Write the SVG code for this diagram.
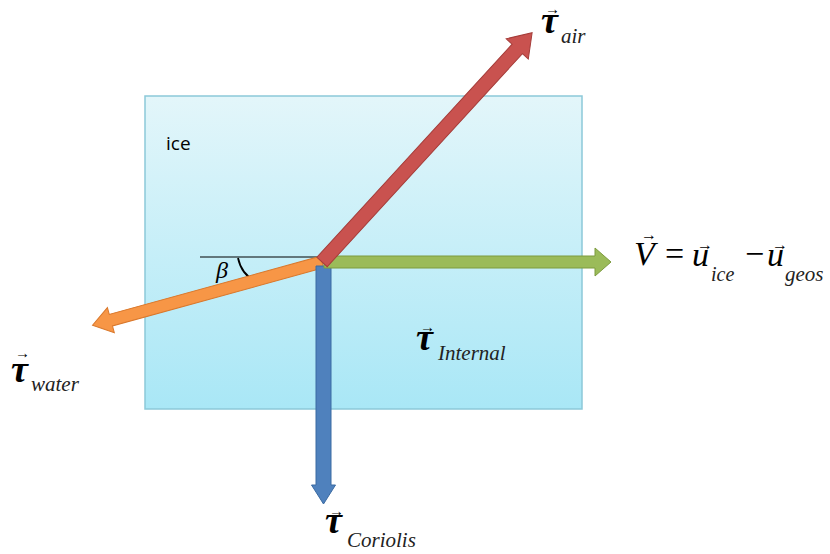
<svg xmlns="http://www.w3.org/2000/svg" width="830" height="554" viewBox="0 0 830 554">
<defs>
<linearGradient id="iceg" x1="0" y1="0" x2="0" y2="1">
<stop offset="0" stop-color="#e3f6fa"/>
<stop offset="1" stop-color="#a9e7f6"/>
</linearGradient>
</defs>
<rect width="830" height="554" fill="#ffffff"/>
<g id="ice-box">
<rect x="145" y="96" width="437" height="313" fill="url(#iceg)" stroke="#8cc9d9" stroke-width="1.5"/>
<text x="166" y="150" font-family="Open Sans" font-size="19" fill="#000">ice</text>
</g>
<g id="beta">
<line x1="200" y1="257" x2="320" y2="257" stroke="#000" stroke-width="1.2"/>
<path d="M238,258 Q242,277 260,283" fill="none" stroke="#000" stroke-width="1.8"/>
<text x="216" y="278" font-family="Liberation Serif" font-style="italic" font-size="24" fill="#000">β</text>
</g>
<g id="connectors">
<path id="tau-water-arrow" transform="translate(322,262) rotate(164.6)" d="M0,-6 L219,-6 L219,-13 L238,0 L219,13 L219,6 L0,6 Z" fill="#f79646" stroke="#d9782c" stroke-width="1"/>
<path id="tau-coriolis-arrow" transform="translate(323.5,266) rotate(90)" d="M0,-7.5 L219,-7.5 L219,-12 L238,0 L219,12 L219,7.5 L0,7.5 Z" fill="#4f81bd" stroke="#3a6aa2" stroke-width="1"/>
<path id="V-arrow" transform="translate(324,262) rotate(0)" d="M0,-6 L271,-6 L271,-14 L287,0 L271,14 L271,6 L0,6 Z" fill="#9bbb59" stroke="#7d9b3f" stroke-width="1"/>
<path id="tau-air-arrow" transform="translate(322,262) rotate(-47.5)" d="M0,-7 L289,-7 L289,-15 L311,0 L289,15 L289,7 L0,7 Z" fill="#c9524f" stroke="#a53c39" stroke-width="1"/>
</g>
<g font-family="Liberation Serif" fill="#000">
<g id="label-air">
<text x="541" y="33" font-size="38" font-weight="bold" font-style="italic">τ<tspan x="545" y="14" font-size="15" font-weight="normal" font-style="normal">→</tspan><tspan x="561" y="43" font-size="21" font-weight="normal" fill="#222">air</tspan></text>
</g>
<g id="label-water">
<text x="11" y="382" font-size="38" font-weight="bold" font-style="italic">τ<tspan x="15" y="358" font-size="15" font-weight="normal" font-style="normal">→</tspan><tspan x="31" y="391" font-size="21" font-weight="normal" fill="#222">water</tspan></text>
</g>
<g id="label-coriolis">
<text x="325" y="533" font-size="38" font-weight="bold" font-style="italic">τ<tspan x="329" y="516" font-size="15" font-weight="normal" font-style="normal">→</tspan><tspan x="347" y="547" font-size="21" font-weight="normal" fill="#222">Coriolis</tspan></text>
</g>
<g id="label-internal">
<text x="416" y="350" font-size="38" font-weight="bold" font-style="italic">τ<tspan x="420" y="332" font-size="15" font-weight="normal" font-style="normal">→</tspan><tspan x="438" y="360" font-size="21" font-weight="normal" fill="#222">Internal</tspan></text>
</g>
<g id="label-V">
<text x="634" y="265" font-size="34" font-style="italic">V<tspan x="641" y="240" font-size="16" font-style="normal">→</tspan><tspan x="665" y="265" font-style="normal">=</tspan><tspan x="692" y="266">u</tspan><tspan x="697" y="250" font-size="16" font-style="normal">→</tspan><tspan x="711" y="281" font-size="20" fill="#222">ice</tspan><tspan x="745" y="265" font-style="normal">−</tspan><tspan x="767" y="266">u</tspan><tspan x="772" y="250" font-size="16" font-style="normal">→</tspan><tspan x="785" y="281" font-size="21" fill="#222">geos</tspan></text>
</g>
</g>
</svg>
